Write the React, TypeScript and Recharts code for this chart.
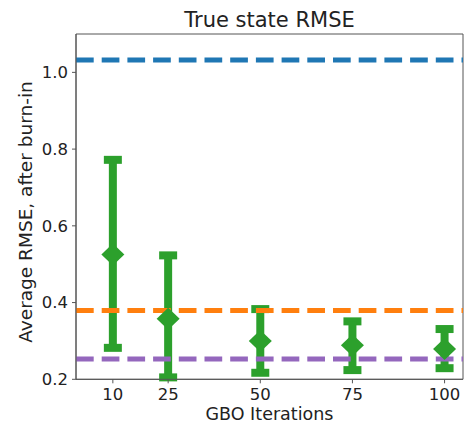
import React from 'react';
import {
    ComposedChart,
    Scatter,
    ErrorBar,
    XAxis,
    YAxis,
    ReferenceLine,
    ReferenceArea,
    Customized,
} from 'recharts';

// GBO iteration counts and the RMSE summary at each
const iterations = [10, 25, 50, 75, 100];
const meanRmse = [0.525, 0.358, 0.3, 0.289, 0.279];
const lowerRmse = [0.282, 0.205, 0.217, 0.224, 0.229];
const upperRmse = [0.772, 0.523, 0.383, 0.351, 0.331];

// horizontal baselines
const blueBaseline = 1.032;
const orangeBaseline = 0.379;
const purpleBaseline = 0.253;

const xTicks = [10, 25, 50, 75, 100];
const yTicks = [0.2, 0.4, 0.6, 0.8, 1.0];

const points = iterations.map((it, i) => ({
    x: it,
    y: meanRmse[i],
    err: [meanRmse[i] - lowerRmse[i], upperRmse[i] - meanRmse[i]],
}));

const GREEN = '#2ca02c';
const FONT = 'DejaVu Sans';

const Diamond = (props: any) => {
    const { cx, cy } = props;
    const w = 11.5;
    const h = 11;
    return (
        <polygon
            points={`${cx - w},${cy} ${cx},${cy - h} ${cx + w},${cy} ${cx},${cy + h}`}
            fill={GREEN}
        />
    );
};

const Labels = () => (
    <g fontFamily={FONT} fill="#222">
        <text x={269.5} y={26.5} textAnchor="middle" fontSize={21}>
            True state RMSE
        </text>
        <text
            x={0}
            y={0}
            transform="translate(32,212) rotate(-90)"
            textAnchor="middle"
            fontSize={18.5}
        >
            Average RMSE, after burn-in
        </text>
        <text x={269.5} y={419.5} textAnchor="middle" fontSize={17.5}>
            GBO Iterations
        </text>
    </g>
);

export default function App() {
    return (
        <div style={{ position: 'absolute', left: 0, top: 0, background: '#fff' }}>
            <ComposedChart
                width={465}
                height={425}
                margin={{ top: 34, right: 2, bottom: 0, left: 0 }}
            >
                <XAxis
                    type="number"
                    dataKey="x"
                    domain={[0, 105]}
                    ticks={xTicks}
                    height={45.7}
                    tickSize={4}
                    tickMargin={5}
                    stroke="#555"
                    tick={{ fontSize: 16.5, fill: '#222', fontFamily: FONT }}
                />
                <YAxis
                    type="number"
                    dataKey="y"
                    domain={[0.2, 1.1]}
                    ticks={yTicks}
                    tickFormatter={(v: number) => v.toFixed(1)}
                    width={76}
                    tickSize={4}
                    tickMargin={4}
                    stroke="#555"
                    tick={{ fontSize: 16.5, fill: '#222', fontFamily: FONT }}
                />
                <Scatter data={points} shape={<Diamond />} isAnimationActive={false}>
                    <ErrorBar
                        dataKey="err"
                        direction="y"
                        width={9}
                        strokeWidth={8}
                        stroke={GREEN}
                        isAnimationActive={false}
                    />
                </Scatter>
                <ReferenceLine y={blueBaseline} stroke="#1f77b4" strokeWidth={5} strokeDasharray="17.7 8" />
                <ReferenceLine y={orangeBaseline} stroke="#ff7f0e" strokeWidth={5} strokeDasharray="17.7 8" />
                <ReferenceLine y={purpleBaseline} stroke="#9467bd" strokeWidth={5} strokeDasharray="17.7 8" />
                <ReferenceArea x1={0} x2={105} y1={0.2} y2={1.1} fill="none" stroke="#555" strokeWidth={1} />
                <Customized component={Labels} />
            </ComposedChart>
        </div>
    );
}
